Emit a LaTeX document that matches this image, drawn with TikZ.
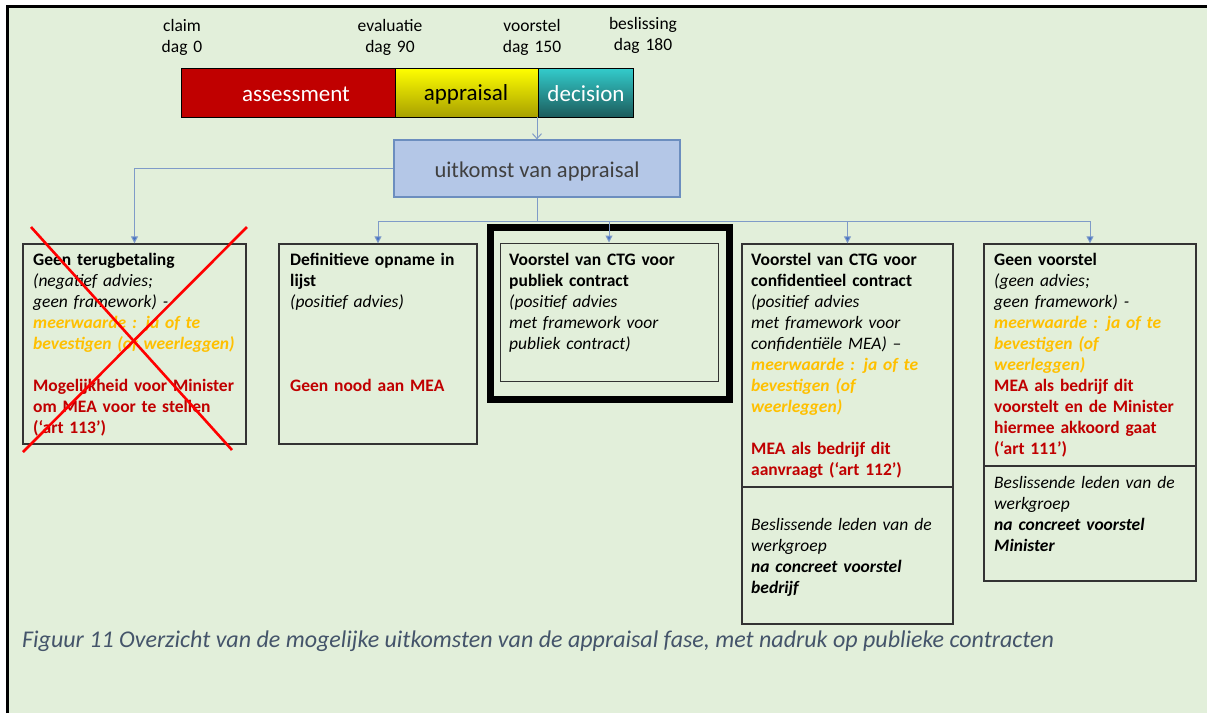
\documentclass[tikz,border=0pt]{standalone}
\usepackage{fontspec}
\setmainfont{Carlito}
\usetikzlibrary{arrows.meta}

\definecolor{pagebg}{HTML}{E2EFDA}
\definecolor{assessred}{HTML}{C00000}
\definecolor{linkcol}{HTML}{7F9BC8}
\definecolor{tipcol}{HTML}{4472C4}
\definecolor{mwgold}{HTML}{FFC000}
\definecolor{meared}{HTML}{C00000}
\definecolor{captcol}{HTML}{44546A}
\definecolor{outfill}{HTML}{B4C7E7}
\definecolor{outdraw}{HTML}{6C8EBF}
\definecolor{boxline}{HTML}{333333}

\newcommand\mwtxt[1]{\textcolor{mwgold}{\textbf{\textit{#1}}}}
\newcommand\meatxt[1]{\textcolor{meared}{\textbf{#1}}}
\newcommand\bitxt[1]{\textbf{\textit{#1}}}

\tikzset{
  outbox/.style={draw=boxline, line width=1.3pt, inner sep=0pt},
  body/.style={font=\fontsize{17.5}{21}\selectfont, align=left, text width=215pt,
               anchor=base west, inner sep=0pt},
  hdr/.style={font=\fontsize{17.5}{21}\selectfont, align=center, text width=100pt,
              anchor=base, inner sep=0pt},
  barseg/.style={draw=black, line width=0.8pt, minimum height=49pt, inner sep=0pt},
  bartxt/.style={font=\fontsize{23}{27}\selectfont, inner sep=0pt},
  link/.style={draw=linkcol, line width=1pt},
  linkarrow/.style={link, -{Triangle[length=7pt,width=7pt,fill=tipcol]}},
  openarrow/.style={link, -{Straight Barb[length=5pt,width=9pt]}},
  cross/.style={draw=red, line width=2.6pt},
}

\begin{document}
\begin{tikzpicture}[x=1pt,y=-1pt]
\useasboundingbox (0,0) rectangle (1207,713);
% page background with its frame on the left and top
\fill[white] (0,0) rectangle (1207,713);
\fill[pagebg] (7,7) rectangle (1207,713);
\draw[line width=2.6pt] (7.6,713) -- (7.6,6.6) -- (1207,6.6);

% milestones
\node[hdr] (t0)   at (182,31) {claim\\dag 0};
\node[hdr] (t90)  at (390,31) {evaluatie\\dag 90};
\node[hdr] (t150) at (532,31) {voorstel\\dag 150};
\node[hdr] (t180) at (643,29) {beslissing\\dag 180};

% phase bar
\node[barseg, fill=assessred, minimum width=214pt] (asmt) at (288,92.5) {};
\node[barseg, top color=yellow, bottom color={rgb,255:red,168;green,160;blue,0},
      minimum width=143pt] (appr) at (466.5,92.5) {};
\node[barseg, top color={rgb,255:red,51;green,204;blue,204},
      bottom color={rgb,255:red,28;green,92;blue,92},
      minimum width=95pt] (dec) at (585.5,92.5) {};
\node[bartxt, text=white] at (296,94) {assessment};
\node[bartxt, text=black] at (466,94) {appraisal};
\node[bartxt, text=white] at (586,94) {decision};

% outcome of the appraisal
\node[draw=outdraw, fill=outfill, line width=1.2pt, minimum width=286pt, minimum height=57pt,
      inner sep=0pt] (uit) at (537,168.5) {};
\node[inner sep=0pt, font=\fontsize{22.5}{26}\selectfont, text=black!75] (uittxt)
      at (537,171) {uitkomst van appraisal};
\draw[openarrow] (uit.north |- appr.south) -- (uit.north);

% outcome boxes
\node[outbox, minimum width=223pt, minimum height=200pt] (b1) at (134.5,344) {};
\node[outbox, minimum width=198pt, minimum height=200pt] (b2) at (378,344) {};
\node[draw=black, line width=7pt, minimum width=239pt, minimum height=172pt, inner sep=0pt]
      (b3frame) at (610,313.5) {};
\node[outbox, line width=1pt, minimum width=218pt, minimum height=138pt] (b3) at (609,312) {};
\node[outbox, minimum width=211pt, minimum height=380pt] (b4) at (847.5,434) {};
\node[outbox, minimum width=212pt, minimum height=337pt] (b5) at (1090,412.5) {};
\draw[boxline, line width=1.3pt] (b4.west |- 0,487) -- (b4.east |- 0,487);
\draw[boxline, line width=1.3pt] (b5.west |- 0,466) -- (b5.east |- 0,466);

% connectors
\coordinate (bus) at (537,221);
\draw[linkarrow] (uit.west) -| (b1.north);
\draw[link] (uit.south) -- (bus);
\draw[linkarrow] (bus) -| (b2.north);
\draw[linkarrow] (bus) -| (b3.north);
\draw[linkarrow] (bus) -| (b4.north);
\draw[linkarrow] (bus) -| (b5.north);

% box texts
\node[body] (x1) at (33,265) {\textbf{Geen terugbetaling}\\
  \textit{(negatief advies;}\\
  \textit{geen framework) -}\\
  \mwtxt{meerwaarde : ja of te}\\
  \mwtxt{bevestigen (of weerleggen)}\\[21pt]
  \meatxt{Mogelijkheid voor Minister}\\
  \meatxt{om MEA voor te stellen}\\
  \meatxt{(‘art 113’)}};
\node[body] (x2) at (290,265) {\textbf{Definitieve opname in}\\
  \textbf{lijst}\\
  \textit{(positief advies)}\\[63pt]
  \meatxt{Geen nood aan MEA}};
\node[body] (x3) at (509,265) {\textbf{Voorstel van CTG voor}\\
  \textbf{publiek contract}\\
  \textit{(positief advies}\\
  \textit{met framework voor}\\
  \textit{publiek contract)}};
\node[body] (x4) at (751,265) {\textbf{Voorstel van CTG voor}\\
  \textbf{confidentieel contract}\\
  \textit{(positief advies}\\
  \textit{met framework voor}\\
  \textit{confidentiële MEA) –}\\
  \mwtxt{meerwaarde : ja of te}\\
  \mwtxt{bevestigen (of}\\
  \mwtxt{weerleggen)}\\[21pt]
  \meatxt{MEA als bedrijf dit}\\
  \meatxt{aanvraagt (‘art 112’)}};
\node[body] (x4b) at (751,530) {\textit{Beslissende leden van de}\\
  \textit{werkgroep}\\
  \bitxt{na concreet voorstel}\\
  \bitxt{bedrijf}};
\node[body] (x5) at (994,265) {\textbf{Geen voorstel}\\
  \textit{(geen advies;}\\
  \textit{geen framework) -}\\
  \mwtxt{meerwaarde : ja of te}\\
  \mwtxt{bevestigen (of}\\
  \mwtxt{weerleggen)}\\
  \meatxt{MEA als bedrijf dit}\\
  \meatxt{voorstelt en de Minister}\\
  \meatxt{hiermee akkoord gaat}\\
  \meatxt{(‘art 111’)}};
\node[body] (x5b) at (994,488) {\textit{Beslissende leden van de}\\
  \textit{werkgroep}\\
  \bitxt{na concreet voorstel}\\
  \bitxt{Minister}};

% struck-out outcome
\draw[cross] (31,227) -- (232,450);
\draw[cross] (247,227) -- (23,452);

% caption
\node[anchor=base west, inner sep=0pt, font=\fontsize{24}{28}\selectfont\itshape, text=captcol]
  (capt) at (22,647) {Figuur 11 Overzicht van de mogelijke uitkomsten van de appraisal fase, met nadruk op publieke contracten};
\end{tikzpicture}
\end{document}
